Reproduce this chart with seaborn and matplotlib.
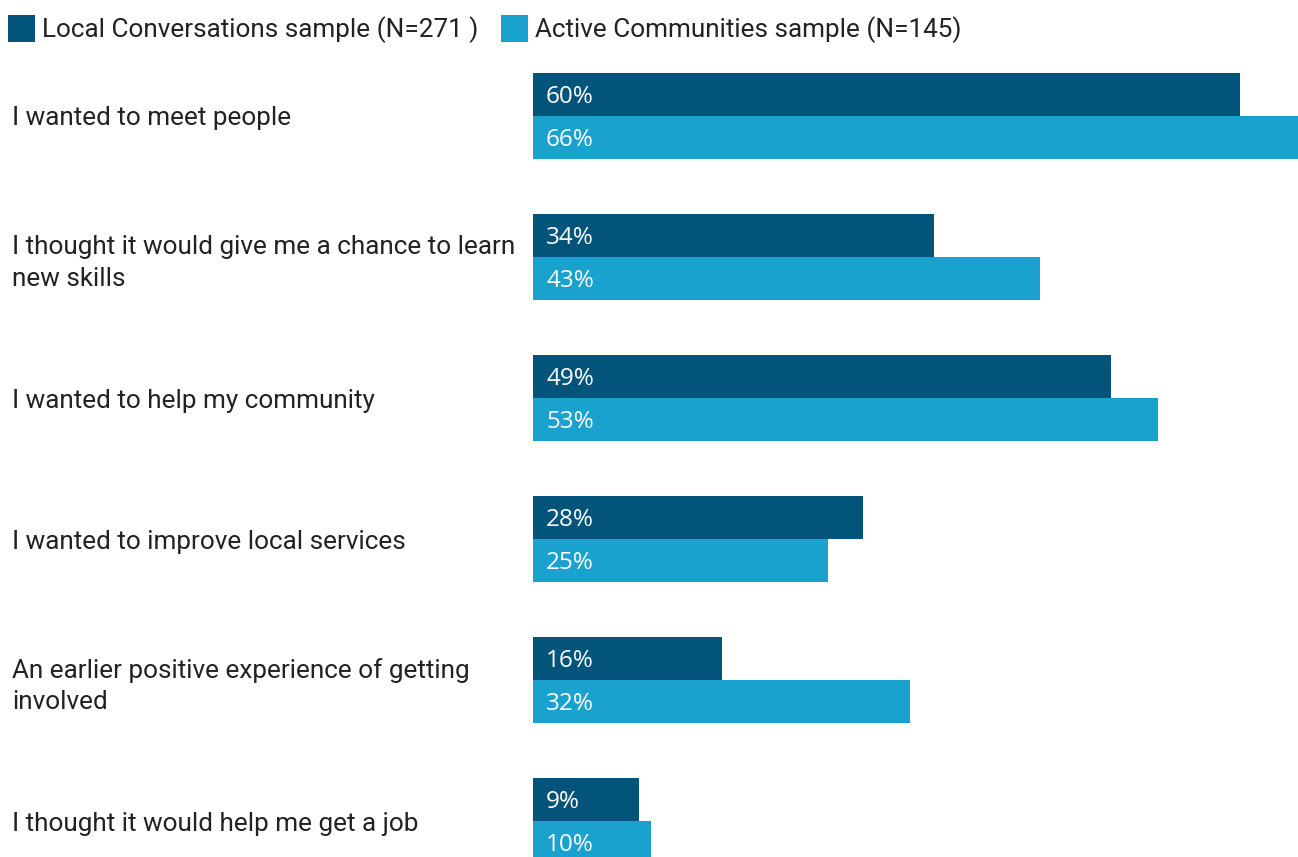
import matplotlib
matplotlib.use("Agg")
import matplotlib.pyplot as plt
import seaborn as sns
import pandas as pd
from matplotlib.patches import Patch

# Survey: reasons for getting involved (% of respondents)
reasons = [
    "I wanted to meet people",
    "I thought it would give me a chance to learn\nnew skills",
    "I wanted to help my community",
    "I wanted to improve local services",
    "An earlier positive experience of getting\ninvolved",
    "I thought it would help me get a job",
]
local_conversations = [60, 34, 49, 28, 16, 9]
active_communities = [66, 43, 53, 25, 32, 10]
series_names = ["Local Conversations sample (N=271 )", "Active Communities sample (N=145)"]
colors = ["#03547a", "#1aa2cf"]

df = pd.DataFrame({
    "reason": reasons * 2,
    "pct": local_conversations + active_communities,
    "sample": [series_names[0]] * len(reasons) + [series_names[1]] * len(reasons),
})

sns.set_theme(style="white")
plt.rcParams["font.family"] = ["Roboto", "DejaVu Sans"]

W, H = 1298, 857
fig = plt.figure(figsize=(W / 100, H / 100), dpi=100)
ax = fig.add_axes([533 / W, 0, 1 - 533 / W, 1 - 60 / H])

sns.barplot(
    data=df, y="reason", x="pct", hue="sample", order=reasons,
    hue_order=series_names, palette=colors, orient="h",
    width=0.61, gap=0, linewidth=0, saturation=1, legend=False, ax=ax,
)

ax.set_xlim(0, 64.9)
ax.set_ylim(5.255, -0.397)
ax.set_xlabel("")
ax.set_ylabel("")
ax.set_xticks([])
for s in ax.spines.values():
    s.set_visible(False)

# Category labels, left-aligned near the figure edge
ax.tick_params(axis="y", length=0, pad=375, labelsize=18.8, labelcolor="#222222")
for lab in ax.get_yticklabels():
    lab.set_horizontalalignment("left")
    lab.set_linespacing(1.38)

# Value labels inside each bar
for cont in ax.containers:
    for bar in cont:
        v = bar.get_width()
        yc = bar.get_y() + bar.get_height() / 2
        ax.annotate(f"{v:.0f}%", xy=(0, yc), xytext=(9.4, -2.0), textcoords="offset points",
                    ha="left", va="center", color="white", fontsize=17.5,
                    family=["Open Sans", "DejaVu Sans"])

handles = [Patch(facecolor=c, edgecolor="none") for c in colors]
fig.legend(handles, series_names, loc="center left", bbox_to_anchor=(8 / W, 1 - 29 / H),
           ncol=2, frameon=False, fontsize=18.8, handlelength=1.03, handleheight=1.2,
           handletextpad=0.28, columnspacing=0.85, borderpad=0, borderaxespad=0,
           labelcolor="#222222")

fig.savefig("out.png", dpi=100)
